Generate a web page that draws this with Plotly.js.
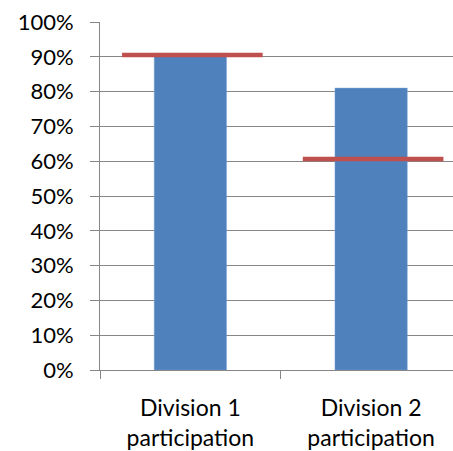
<!DOCTYPE html>
<html>
<head>
<meta charset="utf-8">
<script src="https://cdn.plot.ly/plotly-3.0.1.min.js"></script>
<style>html,body{margin:0;padding:0;background:#fff;}#chart{width:453px;height:451px;}</style>
</head>
<body>
<div id="chart"></div>
<script>
var categories = ["Division 1<br>participation", "Division 2<br>participation"];
var actualValues = [0.91, 0.81];
var targetValues = [0.905, 0.606];

var barTrace = {
  type: "bar",
  x: categories,
  y: actualValues,
  width: 0.4,
  marker: {color: "#4F81BD", line: {color: "#7fa3d3", width: 0.5}},
  hoverinfo: "skip"
};

var targetTraces = targetValues.map(function (v, i) {
  return {
    type: "scatter",
    mode: "lines",
    xaxis: "x2",
    x: [i - 0.378, i + 0.40],
    y: [v, v],
    line: {color: "#C0504D", width: 4.5},
    hoverinfo: "skip"
  };
});

var layout = {
  width: 453,
  height: 451,
  margin: {l: 100, r: 0, t: 22, b: 81},
  paper_bgcolor: "#ffffff",
  plot_bgcolor: "#ffffff",
  showlegend: false,
  font: {family: "Lato, 'Open Sans', sans-serif", size: 22, color: "#000000"},
  xaxis: {
    type: "category",
    range: [-0.5, 1.453],
    tickson: "boundaries",
    ticks: "outside",
    ticklen: 8,
    tickcolor: "#868686",
    tickwidth: 1,
    showline: true,
    linecolor: "#868686",
    linewidth: 1,
    showgrid: false,
    zeroline: false,
    ticklabelstandoff: 17,
    tickfont: {size: 23},
    automargin: false,
    fixedrange: true
  },
  xaxis2: {
    overlaying: "x",
    range: [-0.5, 1.453],
    visible: false,
    fixedrange: true
  },
  yaxis: {
    range: [0, 1],
    dtick: 0.1,
    tick0: 0,
    tickformat: ".0%",
    ticks: "outside",
    ticklen: 9,
    tickcolor: "#868686",
    tickwidth: 1,
    showline: true,
    linecolor: "#868686",
    linewidth: 1,
    showgrid: true,
    gridcolor: "#868686",
    gridwidth: 1,
    zeroline: false,
    ticklabelstandoff: 12,
    tickfont: {size: 22},
    automargin: false,
    fixedrange: true
  }
};

Plotly.newPlot("chart", [barTrace].concat(targetTraces), layout, {displayModeBar: false, staticPlot: true});
</script>
</body>
</html>
